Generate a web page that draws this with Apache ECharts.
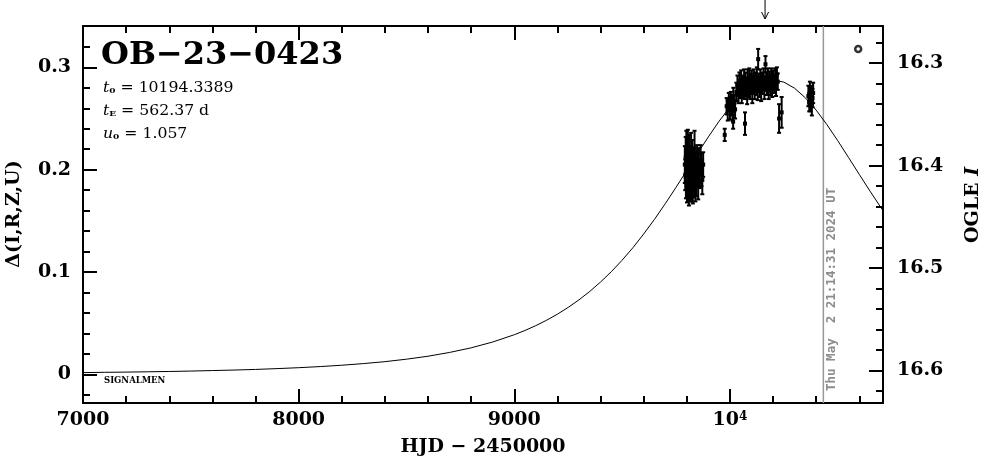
<!DOCTYPE html>
<html><head><meta charset="utf-8">
<script src="https://cdn.jsdelivr.net/npm/echarts@6/dist/echarts.min.js"></script>
<style>html,body{margin:0;padding:0;background:#fff}#c{width:986px;height:459px}</style>
</head><body><div id="c"></div>
<script>
// ---- model curve ----
const curveT = [7000,7100,7200,7300,7400,7500,7600,7700,7800,7900,8000,8100,8200,8300,8400,8500,8600,8700,8800,8900,
  9000,9050,9100,9150,9200,9250,9300,9350,9400,9450,9500,9550,9600,9650,9700,9750,9800,9850,9900,9950,
  10000,10050,10100,10150,10194,10250,10300,10350,10400,10450,10500,10550,10600,10650,10700,10750];
const curveD = [0.0017,0.0020,0.0022,0.0025,0.0028,0.0032,0.0037,0.0042,0.0048,0.0056,0.0065,0.0076,0.0089,0.0105,0.0124,0.0148,0.0177,0.0214,0.0259,0.0316,
  0.0387,0.0429,0.0476,0.0529,0.0588,0.0654,0.0728,0.0810,0.0902,0.1003,0.1115,0.1237,0.1371,0.1514,0.1667,0.1827,0.1992,0.2158,0.2320,0.2474,
  0.2611,0.2726,0.2812,0.2864,0.2879,0.2856,0.2796,0.2702,0.2582,0.2440,0.2284,0.2120,0.1954,0.1790,0.1631,0.1481];

// ---- observations: time, delta, error ----
const obsT = [
  9791,9793,9795,9796,9798,9799,9801,9802,9804,9805,9807,9808,9810,9811,9813,9815,9816,9818,9820,9821,
  9823,9825,9826,9828,9830,9832,9834,9836,9838,9840,9842,9845,9848,9850,9853,9856,9860,9864,9868,9872,9876,
  9976,9985,9990,9995,10000,10004,10008,10012,10015,10016,10020,10024,10070,
  10030,10035,10040,10044,10048,10052,10055,10058,10062,10066,10069,10073,10076,10080,10083,10087,10090,10094,10097,
  10101,10104,10108,10111,10115,10118,10122,10125,10129,10131,10134,10138,10141,10145,10149,10152,10156,10160,10165,
  10168,10172,10176,10180,10184,10188,10192,10196,10200,10205,10210,10214,10218,10222,10228,10240,
  10364,10368,10371,10374,10377,10380,10383,10386];
const obsD = [
  0.205,0.195,0.212,0.188,0.220,0.200,0.183,0.210,0.196,0.223,0.190,0.205,0.178,0.215,0.199,0.187,0.208,0.193,0.217,0.185,
  0.202,0.194,0.212,0.181,0.199,0.206,0.190,0.221,0.197,0.185,0.203,0.192,0.210,0.199,0.186,0.204,0.195,0.209,0.200,0.190,0.205,
  0.234,0.262,0.258,0.266,0.260,0.268,0.263,0.257,0.247,0.270,0.265,0.259,0.245,
  0.276,0.282,0.273,0.285,0.279,0.288,0.275,0.283,0.280,0.289,0.277,0.286,0.281,0.274,0.288,0.280,0.290,0.277,0.284,
  0.288,0.275,0.283,0.289,0.279,0.286,0.282,0.291,0.278,0.308,0.285,0.281,0.289,0.276,0.287,0.283,0.290,0.279,0.303,
  0.286,0.282,0.290,0.278,0.287,0.283,0.291,0.280,0.288,0.284,0.290,0.281,0.293,0.286,0.250,0.256,
  0.272,0.266,0.276,0.268,0.273,0.263,0.270,0.275];
const obsE = [
  0.018,0.015,0.020,0.016,0.018,0.014,0.015,0.016,0.017,0.016,0.015,0.014,0.013,0.019,0.016,0.018,0.015,0.014,0.019,0.016,
  0.015,0.020,0.017,0.014,0.016,0.015,0.017,0.017,0.014,0.016,0.015,0.018,0.014,0.016,0.015,0.017,0.013,0.015,0.016,0.014,0.012,
  0.006,0.008,0.010,0.009,0.011,0.008,0.010,0.009,0.007,0.010,0.008,0.009,0.011,
  0.009,0.010,0.008,0.010,0.009,0.009,0.010,0.009,0.010,0.009,0.008,0.009,0.009,0.010,0.010,0.009,0.009,0.008,0.010,
  0.009,0.010,0.009,0.009,0.010,0.009,0.009,0.009,0.010,0.010,0.009,0.010,0.009,0.009,0.008,0.009,0.009,0.010,0.008,
  0.009,0.009,0.009,0.009,0.009,0.010,0.008,0.009,0.009,0.009,0.009,0.009,0.007,0.008,0.014,0.015,
  0.010,0.009,0.010,0.011,0.009,0.010,0.009,0.010];
const extraT = [10595];
const extraD = [0.318];

// ---- ticks ----
const xMajorTicks = [7000, 8000, 9000, 10000];
const xMinorTicks = [7200,7400,7600,7800,8200,8400,8600,8800,9200,9400,9600,9800,10200,10400,10600];
const yMajorTicks = [0, 0.1, 0.2, 0.3];
const yMinorTicks = [-0.02,0.02,0.04,0.06,0.08,0.12,0.14,0.16,0.18,0.22,0.24,0.26,0.28,0.32];
const magMajorTicks = [16.3, 16.4, 16.5, 16.6];
const magMinorTicks = [16.28,16.32,16.34,16.36,16.38,16.42,16.44,16.46,16.48,16.52,16.54,16.56,16.58,16.62];

// ---- texts / annotations ----
const titleText = 'OB\u221223\u22120423';
const paramNames = ['t', 't', 'u'];
const paramSubs = ['0', 'E', '0'];
const paramValues = ['10194.3389', '562.37 d', '1.057'];
const nowT = 10433.4;
const nowLabel = 'Thu May  2 21:14:31 2024 UT';
const arrowT = 10163;
const signalText = 'SIGNALMEN';

const X_MIN = 7000, X_MAX = 10710, Y_MIN = -0.028, Y_MAX = 0.3404, I0 = 16.604;
const FONT = 'DejaVu Serif';

const chart = echarts.init(document.getElementById('c'), null, {renderer: 'canvas'});

function xAx(pos, ticks, len, withLine, withLabels) {
  return {
    type: 'value', position: pos, min: X_MIN, max: X_MAX, gridIndex: 0,
    axisLine: {show: withLine, onZero: false, lineStyle: {color: '#000', width: 2}},
    axisTick: {show: true, inside: true, length: len, customValues: ticks, lineStyle: {color: '#000', width: 2}},
    axisLabel: withLabels ? {
      show: true, customValues: ticks, margin: 8, color: '#000', fontFamily: FONT, fontWeight: 'bold', fontSize: 19,
      formatter: v => v === 10000 ? '10{sup|4}' : String(v),
      rich: {sup: {fontSize: 12, fontFamily: FONT, fontWeight: 'bold', color: '#000', verticalAlign: 'top'}}
    } : {show: false},
    splitLine: {show: false}
  };
}
function yAx(pos, ticks, len, withLine, withLabels, mag) {
  return {
    type: 'value', position: pos, gridIndex: 0,
    min: mag ? +(I0 - Y_MAX).toFixed(4) : Y_MIN, max: mag ? +(I0 - Y_MIN).toFixed(4) : Y_MAX, inverse: !!mag,
    axisLine: {show: withLine, onZero: false, lineStyle: {color: '#000', width: 2}},
    axisTick: {show: true, inside: true, length: len, customValues: ticks, lineStyle: {color: '#000', width: 2}},
    axisLabel: withLabels ? {
      show: true, customValues: ticks, margin: mag ? 14 : 12, color: '#000', fontFamily: FONT, fontWeight: 'bold', fontSize: 19,
      formatter: v => mag ? v.toFixed(1) : (v === 0 ? '0' : v.toFixed(1))
    } : {show: false},
    splitLine: {show: false}
  };
}

const option = {
  animation: false,
  backgroundColor: '#fff',
  grid: {left: 83, right: 103, top: 26, bottom: 56, containLabel: false},
  xAxis: [
    xAx('bottom', xMajorTicks, 14, true, true),
    xAx('bottom', xMinorTicks, 7, false, false),
    xAx('top', xMajorTicks, 14, true, false),
    xAx('top', xMinorTicks, 7, false, false)
  ],
  yAxis: [
    yAx('left', yMajorTicks, 14, true, true, false),
    yAx('left', yMinorTicks, 7, false, false, false),
    yAx('right', magMajorTicks, 14, true, true, true),
    yAx('right', magMinorTicks, 7, false, false, true)
  ],
  series: [
    {
      type: 'line', xAxisIndex: 0, yAxisIndex: 0, symbol: 'none', smooth: false, clip: true,
      data: curveT.map((t, i) => [t, curveD[i]]),
      lineStyle: {color: '#000', width: 1}
    },
    {
      type: 'custom', xAxisIndex: 0, yAxisIndex: 0,
      data: obsT.map((t, i) => [t, obsD[i], obsE[i]]),
      encode: {x: 0, y: 1},
      renderItem: (params, api) => {
        const t = api.value(0), d = api.value(1), e = api.value(2);
        const a = api.coord([t, d + e]), b = api.coord([t, d - e]), c = api.coord([t, d]);
        const st = {stroke: '#000', lineWidth: 2};
        return {type: 'group', children: [
          {type: 'line', shape: {x1: a[0], y1: a[1], x2: b[0], y2: b[1]}, style: st},
          {type: 'line', shape: {x1: a[0] - 2, y1: a[1], x2: a[0] + 2, y2: a[1]}, style: st},
          {type: 'line', shape: {x1: b[0] - 2, y1: b[1], x2: b[0] + 2, y2: b[1]}, style: st},
          {type: 'rect', shape: {x: c[0] - 2, y: c[1] - 2, width: 4, height: 4}, style: {fill: '#000'}}
        ]};
      }
    },
    {
      type: 'scatter', xAxisIndex: 0, yAxisIndex: 0, symbol: 'circle', symbolSize: 6,
      data: extraT.map((t, i) => [t, extraD[i]]),
      itemStyle: {color: '#fff', borderColor: '#000', borderWidth: 2.5}
    }
  ]
};
chart.setOption(option);

const xNow = chart.convertToPixel({xAxisIndex: 0}, nowT);
const xArrow = chart.convertToPixel({xAxisIndex: 0}, arrowT);
const yTop = chart.convertToPixel({yAxisIndex: 0}, Y_MAX);
const yBot = chart.convertToPixel({yAxisIndex: 0}, Y_MIN);
const xLeft = chart.convertToPixel({xAxisIndex: 0}, X_MIN);

const graphics = [
  {type: 'line', z: 1, shape: {x1: xNow, y1: yTop, x2: xNow, y2: yBot}, style: {stroke: '#999', lineWidth: 1.5}},
  {type: 'text', z: 5, x: xNow + 8, y: yBot - 12, rotation: Math.PI / 2,
   style: {text: nowLabel, fill: '#8c8c8c', font: 'bold 12.5px "DejaVu Sans Mono"', align: 'left', verticalAlign: 'middle'}},
  {type: 'line', shape: {x1: xArrow, y1: 0, x2: xArrow, y2: 19}, style: {stroke: '#000', lineWidth: 1}},
  {type: 'polyline', shape: {points: [[xArrow - 3.5, 12], [xArrow, 19], [xArrow + 3.5, 12]]}, style: {stroke: '#000', lineWidth: 1, fill: null}},
  {type: 'text', x: xLeft + 18, y: 56, scaleX: 1.0,
   style: {text: titleText, fill: '#000', font: 'bold 32px "DejaVu Serif"', align: 'left', verticalAlign: 'middle'}},
  {type: 'text', x: xLeft + 21, y: yBot - 22,
   style: {text: signalText, fill: '#000', font: 'bold 8.5px "DejaVu Serif"', align: 'left', verticalAlign: 'middle'}},
  {type: 'text', x: 14, y: 214, rotation: Math.PI / 2,
   style: {text: '\u0394(I,R,Z,U)', fill: '#000', font: 'bold 19px "DejaVu Serif"', align: 'center', verticalAlign: 'middle'}},
  {type: 'text', x: 483, y: 447,
   style: {text: 'HJD \u2212 2450000', fill: '#000', font: 'bold 19px "DejaVu Serif"', align: 'center', verticalAlign: 'middle'}},
  {type: 'text', x: 973, y: 205, rotation: Math.PI / 2,
   style: {text: 'OGLE {i|I}', fill: '#000', font: 'bold 19px "DejaVu Serif"', align: 'center', verticalAlign: 'middle',
           rich: {i: {fontFamily: FONT, fontWeight: 'bold', fontStyle: 'italic', fontSize: 19, fill: '#000'}}}}
];
const paramY = [88, 111, 134];
paramNames.forEach((n, i) => {
  graphics.push({type: 'text', x: xLeft + 20, y: paramY[i], scaleX: 1.12,
    style: {text: '{n|' + n + '}{s|' + paramSubs[i] + '}{v| = ' + paramValues[i] + '}',
      align: 'left', verticalAlign: 'middle',
      rich: {
        n: {fontFamily: FONT, fontStyle: 'italic', fontSize: 14, fill: '#000', verticalAlign: 'middle'},
        s: {fontFamily: FONT, fontSize: 8, fontWeight: 'bold', fill: '#000', verticalAlign: 'bottom'},
        v: {fontFamily: FONT, fontSize: 14, fill: '#000', verticalAlign: 'middle'}
      }}});
});
chart.setOption({graphic: graphics});
</script>
</body></html>
